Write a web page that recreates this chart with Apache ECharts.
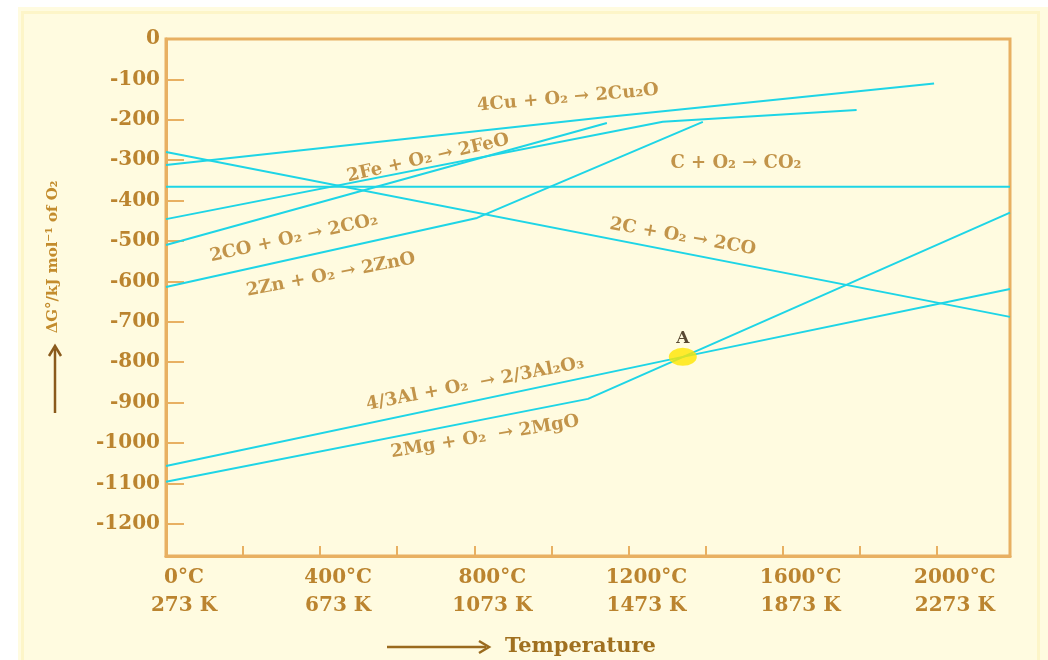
<!DOCTYPE html>
<html><head><meta charset="utf-8">
<script src="https://cdn.jsdelivr.net/npm/echarts@6/dist/echarts.min.js"></script>
<style>
html,body{margin:0;padding:0;background:#fff;}
#panel{position:absolute;left:18px;top:7px;width:1030px;height:653px;background:#fffbe0;}
#panel2{position:absolute;left:21px;top:11px;width:1019px;height:649px;border:3px solid #fdf5c8;border-bottom:none;box-sizing:border-box;}
#chart{position:absolute;left:0;top:0;width:1048px;height:660px;}
</style></head><body>
<div id="panel"></div><div id="panel2"></div>
<div id="chart"></div>
<script>
// ---- axis ticks / labels ----
const xTickValues = [0, 200, 400, 600, 800, 1000, 1200, 1400, 1600, 1800, 2000];
const xLabelValues = [0, 400, 800, 1200, 1600, 2000];
const yTickValues = [0, -100, -200, -300, -400, -500, -600, -700, -800, -900, -1000, -1100, -1200];

// ---- Ellingham lines: [temperature °C, ΔG kJ/mol O2] ----
const cu2oLine = [[0, -312], [1144, -193], [1993, -110]];
const feoLine = [[0, -446], [1289, -205], [1792, -176]];
const coToCo2Line = [[0, -510], [1144, -208]];
const znoLine = [[0, -614], [807, -443], [1393, -205]];
const cToCoLine = [[0, -280], [2190, -688]];
const cToCo2Line = [[0, -366], [2190, -366]];
const al2o3Line = [[0, -1057], [1341, -787], [2190, -619]];
const mgoLine = [[0, -1096], [1095, -891], [2190, -430]];
const pointA = [1341, -787];

// ---- reaction labels ----
const annotationTexts = ['4Cu + O₂ → 2Cu₂O', '2Fe + O₂ → 2FeO', 'C + O₂ → CO₂', '2CO + O₂ → 2CO₂',
  '2C + O₂ → 2CO', '2Zn + O₂ → 2ZnO', '4/3Al + O₂  → 2/3Al₂O₃', '2Mg + O₂  → 2MgO'];
const annotationX = [1043, 680, 1479, 332, 1341, 428, 802, 828];
const annotationY = [-146, -295, -309, -493, -490, -584, -854, -985];
const annotationAngle = [5, 13, 0, 12.5, -10, 11, 11, 9.5];

const FONT = 'DejaVu Serif';
const TXT = '#bb842f';
const NOTE = '#b37a24';
const AXIS = '#e8b062';
const CYAN = '#1ed5e6';

const lines = [cu2oLine, feoLine, coToCo2Line, znoLine, cToCoLine, cToCo2Line, al2o3Line, mgoLine];
const series = lines.map(d => ({
  type: 'line', data: d, symbol: 'none', silent: true, z: 3,
  lineStyle: { color: CYAN, width: 2 }
}));

series.push({
  type: 'scatter', silent: true, z: 5,
  data: annotationTexts.map((t, i) => ({
    value: [annotationX[i], annotationY[i]], name: t,
    label: { rotate: annotationAngle[i] }
  })),
  symbolSize: 0,
  label: {
    show: true, position: 'inside', formatter: p => p.name,
    color: NOTE, fontFamily: FONT, fontWeight: 'bold', fontSize: 18
  }
});

series.push({
  type: 'scatter', silent: true, z: 6,
  data: [pointA],
  symbol: 'circle', symbolSize: [28, 18],
  itemStyle: { color: '#ffe600' },
  label: {
    show: true, position: 'top', distance: 1, formatter: 'A',
    color: '#2e1c06', fontFamily: FONT, fontWeight: 'bold', fontSize: 17
  }
});

const chart = echarts.init(document.getElementById('chart'), null, { renderer: 'canvas' });
chart.setOption({
  backgroundColor: 'transparent',
  animation: false,
  grid: { left: 166, right: 38, top: 39, bottom: 104, show: true, borderColor: AXIS, borderWidth: 3, backgroundColor: 'transparent' },
  xAxis: {
    type: 'value', min: 0, max: 2190,
    axisLine: { show: true, onZero: false, lineStyle: { color: AXIS, width: 3 } },
    axisTick: { show: true, inside: true, length: 10, customValues: xTickValues, lineStyle: { color: AXIS, width: 2 } },
    splitLine: { show: false },
    axisLabel: {
      customValues: xLabelValues,
      formatter: v => v + '°C\n' + (v + 273) + ' K',
      color: TXT, fontFamily: FONT, fontWeight: 'bold', fontSize: 20, lineHeight: 28,
      margin: 8, align: 'center', padding: [0, 0, 0, 36]
    }
  },
  yAxis: {
    type: 'value', min: -1280, max: 0,
    axisLine: { show: true, onZero: false, lineStyle: { color: AXIS, width: 3 } },
    axisTick: { show: true, inside: true, length: 18, customValues: yTickValues, lineStyle: { color: AXIS, width: 2 } },
    splitLine: { show: false },
    axisLabel: {
      customValues: yTickValues,
      formatter: v => String(v),
      color: TXT, fontFamily: FONT, fontWeight: 'bold', fontSize: 20, margin: 6
    }
  },
  graphic: [
    { type: 'text', x: 53, y: 257, rotation: Math.PI / 2, z: 10,
      style: { text: 'ΔG°/kJ mol⁻¹ of O₂', fill: '#c38c2d', font: 'bold 15px "DejaVu Serif"', textAlign: 'center', textVerticalAlign: 'middle' } },
    { type: 'line', z: 10, shape: { x1: 55, y1: 413, x2: 55, y2: 349 }, style: { stroke: '#8a5a1c', lineWidth: 2.5 } },
    { type: 'polyline', z: 10, shape: { points: [[49, 356], [55, 346], [61, 356]] }, style: { stroke: '#8a5a1c', lineWidth: 2.5, fill: null } },
    { type: 'line', z: 10, shape: { x1: 387, y1: 647, x2: 486, y2: 647 }, style: { stroke: '#9a6a1e', lineWidth: 2.5 } },
    { type: 'polyline', z: 10, shape: { points: [[479, 641], [489, 647], [479, 653]] }, style: { stroke: '#9a6a1e', lineWidth: 2.5, fill: null } },
    { type: 'text', x: 505, y: 647, z: 10,
      style: { text: 'Temperature', fill: '#a0701f', font: 'bold 21px "DejaVu Serif"', textAlign: 'left', textVerticalAlign: 'middle' } }
  ],
  series: series
});
</script>
</body></html>
